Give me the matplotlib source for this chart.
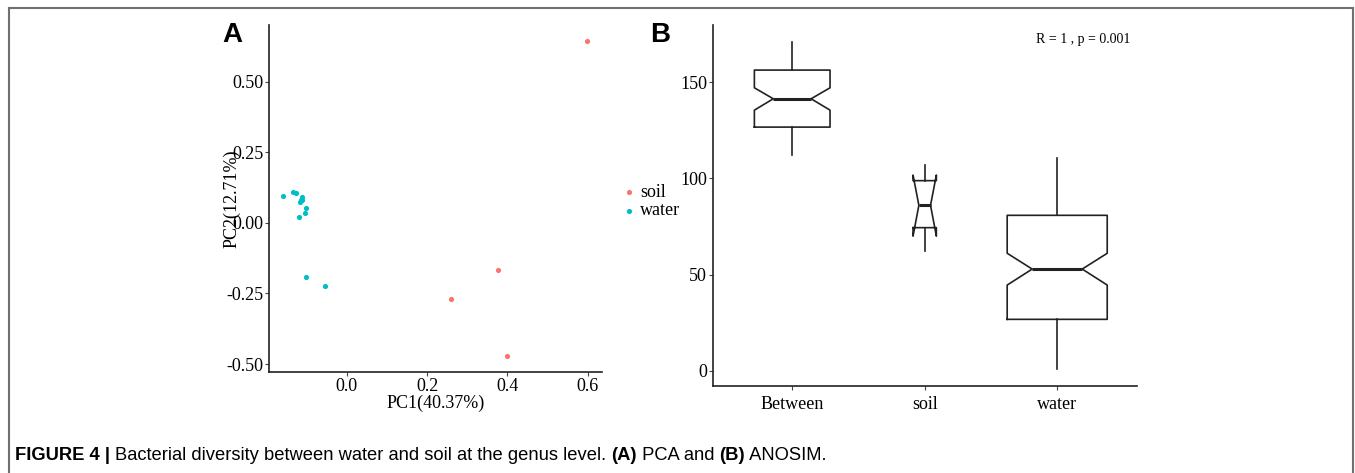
import matplotlib
matplotlib.use("Agg")
import matplotlib.pyplot as plt
from matplotlib.lines import Line2D

# ---- data ----
soil_pc1 = [0.597, 0.376, 0.259, 0.400]
soil_pc2 = [0.645, -0.167, -0.271, -0.472]
water_pc1 = [-0.157, -0.133, -0.127, -0.111, -0.114, -0.116, -0.110, -0.101, -0.104, -0.119, -0.100, -0.053]
water_pc2 = [0.096, 0.109, 0.105, 0.091, 0.079, 0.073, 0.082, 0.054, 0.035, 0.022, -0.191, -0.222]

groups = ["Between", "soil", "water"]
whislo = [112.1, 62.3, 0.9]
q1 = [126.6, 74.4, 26.8]
cilo = [135.4, 70.0, 44.6]
med = [141.3, 86.0, 52.9]
cihi = [147.0, 101.7, 61.1]
q3 = [156.2, 98.8, 80.8]
whishi = [170.6, 106.7, 110.7]
box_widths = [0.571, 0.176, 0.755]

SOIL = "#F8766D"
WATER = "#00BFC4"
W, H = 1355, 473
serif = ["Liberation Serif", "DejaVu Serif"]

fig = plt.figure(figsize=(W / 100, H / 100), dpi=100)


def style_axes(ax):
    for s in ["top", "right"]:
        ax.spines[s].set_visible(False)
    for s in ["left", "bottom"]:
        ax.spines[s].set_linewidth(1.2)
        ax.spines[s].set_color("#222222")
    ax.tick_params(length=3, width=0.8, color="#444444", labelsize=13, pad=1)
    for lab in ax.get_xticklabels() + ax.get_yticklabels():
        lab.set_family(serif)


# ---- panel A: PCA ----
axA = fig.add_axes([269 / W, 1 - 372 / H, 333 / W, 347 / H])
axA.scatter(soil_pc1, soil_pc2, s=14, color=SOIL, label="soil", linewidths=0)
axA.scatter(water_pc1, water_pc2, s=14, color=WATER, label="water", linewidths=0)
axA.set_xlim(-0.193, 0.635)
axA.set_ylim(-0.528, 0.70)
axA.set_xticks([0.0, 0.2, 0.4, 0.6])
axA.set_xticklabels(["0.0", "0.2", "0.4", "0.6"])
axA.set_yticks([-0.50, -0.25, 0.00, 0.25, 0.50])
axA.set_yticklabels(["-0.50", "-0.25", "0.00", "0.25", "0.50"])
style_axes(axA)
axA.set_xlabel("PC1(40.37%)", family=serif, fontsize=13, labelpad=0)
# the reference draws this label over the tick labels
axA.set_ylabel("PC2(12.71%)", family=serif, fontsize=13, va="center")
axA.yaxis.set_label_coords(-0.112, 0.5)

leg = axA.legend(loc="center left", bbox_to_anchor=(620 / W, 1 - 201.5 / H),
                 bbox_transform=fig.transFigure, frameon=False,
                 prop={"family": serif, "size": 13}, labelspacing=0.1,
                 handletextpad=0.1, handlelength=1.0, borderpad=0, borderaxespad=0)

# ---- panel B: ANOSIM ----
axB = fig.add_axes([712.7 / W, 1 - 386 / H, 424 / W, 361 / H])
stats = []
for i, g in enumerate(groups):
    stats.append({"label": g, "whislo": whislo[i], "q1": q1[i], "cilo": cilo[i],
                  "med": med[i], "cihi": cihi[i], "q3": q3[i], "whishi": whishi[i],
                  "fliers": []})
axB.bxp(stats, positions=[1, 2, 3], widths=box_widths, shownotches=True,
        showcaps=False, showfliers=False,
        boxprops={"color": "#222222", "linewidth": 1.2},
        whiskerprops={"color": "#222222", "linewidth": 1.2},
        medianprops={"color": "#222222", "linewidth": 2.2})
axB.set_xlim(0.4, 3.6)
axB.set_ylim(-7.8, 179.6)
axB.set_yticks([0, 50, 100, 150])
style_axes(axB)
axB.tick_params(axis="x", pad=4)
axB.text(0.984, 0.961, "R = 1 , p = 0.001", transform=axB.transAxes,
         ha="right", va="center", family=serif, fontsize=10)

# panel letters
fig.text(222 / W, 1 - 35 / H, "A", family=["Liberation Sans", "DejaVu Sans"],
         weight="bold", fontsize=20, va="center", ha="left")
fig.text(650 / W, 1 - 35 / H, "B", family=["Liberation Sans", "DejaVu Sans"],
         weight="bold", fontsize=20, va="center", ha="left")

# frame around the figure (open at the bottom)
frame = dict(color="#707070", linewidth=1.5, transform=fig.transFigure)
fig.add_artist(Line2D([9 / W, 9 / W], [0, 1 - 8 / H], **frame))
fig.add_artist(Line2D([9 / W, 1353 / W], [1 - 8 / H, 1 - 8 / H], **frame))
fig.add_artist(Line2D([1353 / W, 1353 / W], [0, 1 - 8 / H], **frame))

# caption with mixed weights
cap_family = ["Liberation Sans", "DejaVu Sans"]
pieces = [("FIGURE 4 | ", "bold"),
          ("Bacterial diversity between water and soil at the genus level. ", "normal"),
          ("(A)", "bold"), (" PCA and ", "normal"), ("(B)", "bold"), (" ANOSIM.", "normal")]
renderer = fig.canvas.get_renderer()
x = 15
for txt, wt in pieces:
    t = fig.text(x / W, 1 - 460 / H, txt, family=cap_family, weight=wt,
                 fontsize=13.2, ha="left", va="baseline")
    x += t.get_window_extent(renderer).width

fig.savefig("out.png", dpi=100)
